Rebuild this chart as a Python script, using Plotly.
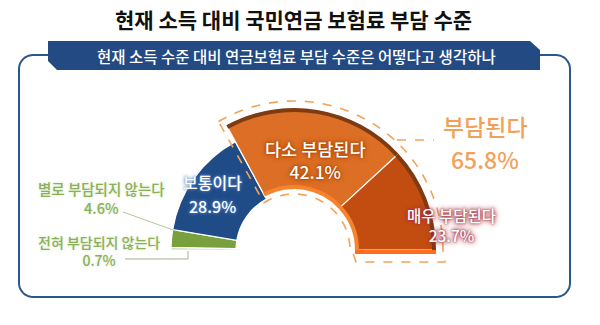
import math
import plotly.graph_objects as go

# ---------------- data ----------------
categories = ["전혀 부담되지 않는다", "별로 부담되지 않는다", "보통이다", "다소 부담된다", "매우 부담된다"]
values = [0.7, 4.6, 28.9, 42.1, 23.7]
group_name = "부담된다"
group_members = ["다소 부담된다", "매우 부담된다"]
title_text = "현재 소득 대비 국민연금 보험료 부담 수준"
subtitle_text = "현재 소득 수준 대비 연금보험료 부담 수준은 어떻다고 생각하나"

# ---------------- style ----------------
W, H = 600, 325
CX, CY = 294, 250          # pixel centre of the half donut
RMAX = 150                 # radial axis range (pixels)
colors = ["#c9d2b9", "#7a9f3d", "#1f4b87", "#dc6f25", "#c34d10"]
FONT = "Noto Sans CJK KR"


def px(x):
    return x / W


def py(y):
    return 1 - y / H


total = sum(values)
starts, widths = [], []
acc = 0.0
for v in values:
    starts.append(acc / total * 180)
    widths.append(v / total * 180)
    acc += v
centers = [s + w / 2 for s, w in zip(starts, widths)]

is_group = [c in group_members for c in categories]
base = [61 if g else 58 for g in is_group]
outer = [142 if g else 123 for g in is_group]
thick = [o - b for o, b in zip(outer, base)]

fig = go.Figure()

# main segments
fig.add_trace(go.Barpolar(
    r=thick, base=base, theta=centers, width=widths,
    marker=dict(color=colors, line=dict(color="white", width=1.2)),
    text=categories, hoverinfo="text", showlegend=False,
))

# 3D rims for the emphasised group
g_theta = [c for c, g in zip(centers, is_group) if g]
g_width = [w for w, g in zip(widths, is_group) if g]
fig.add_trace(go.Barpolar(
    r=[4] * len(g_theta), base=[138] * len(g_theta), theta=g_theta, width=g_width,
    marker=dict(color="#7e3b12", line=dict(width=0)), hoverinfo="skip", showlegend=False,
))
fig.add_trace(go.Barpolar(
    r=[4] * len(g_theta), base=[61] * len(g_theta), theta=g_theta, width=g_width,
    marker=dict(color="#f7842c", line=dict(width=0)), hoverinfo="skip", showlegend=False,
))

fig.update_layout(
    width=W, height=H,
    margin=dict(l=0, r=0, t=0, b=0),
    paper_bgcolor="white", plot_bgcolor="white",
    polar=dict(
        domain=dict(x=[px(CX - RMAX), px(CX + RMAX)], y=[py(CY), py(CY - RMAX)]),
        sector=[0, 180], hole=0, bgcolor="rgba(0,0,0,0)",
        radialaxis=dict(range=[0, RMAX], visible=False),
        angularaxis=dict(visible=False, direction="clockwise", rotation=180),
    ),
    bargap=0,
)

shapes = []


def path_from(points, close=False):
    s = "M " + " L ".join(f"{px(x):.5f},{py(y):.5f}" for x, y in points)
    return s + (" Z" if close else "")


# frame (rounded rectangle)
x0, y0, x1, y1, rr = 19, 55, 570, 297, 14
pts = []
for (cx_, cy_, a0) in [(x1 - rr, y0 + rr, 90), (x1 - rr, y1 - rr, 0), (x0 + rr, y1 - rr, 270), (x0 + rr, y0 + rr, 180)]:
    for k in range(0, 11):
        a = math.radians(a0 - 9 * k)
        pts.append((cx_ + rr * math.cos(a), cy_ - rr * math.sin(a)))
shapes.append(dict(type="path", xref="paper", yref="paper", path=path_from(pts, True),
                   line=dict(color="#2c568f", width=2), fillcolor="rgba(0,0,0,0)", layer="above"))

# banner
banner = [(48, 41), (530, 41), (540, 50), (540, 70), (57, 70), (48, 61)]
shapes.append(dict(type="path", xref="paper", yref="paper", path=path_from(banner, True),
                   line=dict(width=0), fillcolor="#234a83", layer="above"))

# dashed outline around the emphasised group
gi = categories.index(group_members[0])
a_start = 180 - starts[gi]          # standard angle of the group's left edge
Ro, Ri = 149, 56
outline = []
n = 60
for k in range(n + 1):
    a = math.radians((a_start + 2) * (1 - k / n))
    outline.append((CX + Ro * math.cos(a), CY - Ro * math.sin(a)))
outline.append((CX + Ro + 2, CY + 12))
outline.append((CX + Ri + 6, CY + 12))
outline.append((CX + Ri + 2, CY))
for k in range(n + 1):
    a = math.radians((a_start + 4) * k / n)
    outline.append((CX + Ri * math.cos(a), CY - Ri * math.sin(a)))
shapes.append(dict(type="path", xref="paper", yref="paper", path=path_from(outline, True),
                   line=dict(color="#f4a255", width=1.6, dash="dash"), fillcolor="rgba(0,0,0,0)", layer="above"))
# connector to the group label
shapes.append(dict(type="line", xref="paper", yref="paper", x0=px(397), y0=py(140), x1=px(434), y1=py(140),
                   line=dict(color="#f4a255", width=1.6, dash="dash"), layer="above"))

# 3D bottom face of last slice
shapes.append(dict(type="rect", xref="paper", yref="paper", x0=px(CX + 61), x1=px(CX + 142),
                   y0=py(250), y1=py(254), line=dict(width=0), fillcolor="#ff6d1f", layer="above"))

# leader lines for the small slices
shapes.append(dict(type="line", xref="paper", yref="paper", x0=px(123), y0=py(212), x1=px(176), y1=py(231),
                   line=dict(color="#b5c894", width=1), layer="above"))
shapes.append(dict(type="path", xref="paper", yref="paper",
                   path=path_from([(125, 259), (188, 259), (188, 251)]),
                   line=dict(color="#a5ad9a", width=1), layer="above"))

fig.update_layout(shapes=shapes)

ann = []


def add_text(x, y, text, size, color, weight="normal", shadow=None):
    f = dict(family=FONT, size=size, color=color, weight=weight)
    if shadow:
        f["shadow"] = shadow
    ann.append(dict(x=px(x), y=py(y), xref="paper", yref="paper", text=text, showarrow=False,
                    xanchor="center", yanchor="middle", align="center", font=f))


add_text(293, 19, title_text, 21, "#111111", weight="bold")
add_text(296, 56, subtitle_text, 15.5, "white", weight=500)

fmt = lambda v: f"{v:.1f}%"
lab = lambda name, v: f"{name}<br>{fmt(v)}"
sh_or = "0 0 2px #a84300, 0 0 4px #a84300, 0 0 6px #c05a10"
sh_bl = "0 0 2px #5a88cc, 0 0 4px #5a88cc"
sh_rd = "0 0 2px #a02838, 0 0 4px #a02838, 0 0 6px #b04050"
sh_gr = "0 0 2px #eef4e4, 0 0 3px #d8e6c6"
# category labels
add_text(315, 160, lab(categories[3], values[3]), 17.5, "white", weight=500, shadow=sh_or)
add_text(212, 182, categories[2], 16, "white", weight=500, shadow=sh_bl)
add_text(212, 206, fmt(values[2]), 16, "white", weight=500, shadow=sh_bl)
add_text(451, 225, lab(categories[4], values[4]), 15.5, "white", weight=500, shadow=sh_rd)
add_text(101, 198, lab(categories[1], values[1]), 14.5, "#8ab05a", weight=500, shadow=sh_gr)
add_text(99, 251, lab(categories[0], values[0]), 14, "#8ab05a", weight=500, shadow=sh_gr)

group_value = sum(v for c, v in zip(categories, values) if c in group_members)
add_text(485, 126, group_name, 23, "#f2a15a", weight=500)
add_text(485, 159, fmt(group_value), 23, "#f2a15a", weight=500)

fig.update_layout(annotations=ann)

fig.write_html("out.html")
